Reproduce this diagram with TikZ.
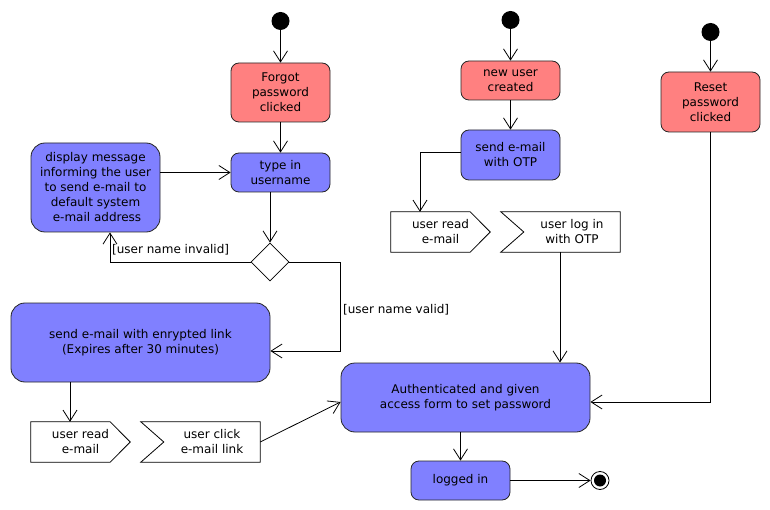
\documentclass[tikz,border=0pt]{standalone}
\usepackage{fontspec}
\setmainfont{DejaVu Sans}
\usetikzlibrary{arrows.meta,shapes.geometric}
\definecolor{triggerred}{HTML}{FF8080}
\definecolor{actionblue}{HTML}{8080FF}
\begin{document}
\begin{tikzpicture}[x=1pt, y=-1pt,
		font=\fontsize{12}{15}\selectfont,
		every node/.style={inner sep=0pt, align=center},
		act/.style={draw=black!85, line width=0.8pt, rounded corners=8pt},
		trigger/.style={act, fill=triggerred, minimum width=99pt},
		action/.style={act, fill=actionblue},
		start/.style={circle, fill=black, minimum size=18pt},
		decision/.style={diamond, draw, line width=0.8pt, minimum width=38pt, minimum height=38pt},
		evtbox/.style={rectangle, minimum height=40pt},
		evtline/.style={line width=0.8pt, line join=miter},
		flow/.style={-{Straight Barb[length=11pt, width=14pt]}, line width=0.8pt}]
		\useasboundingbox (0,0) rectangle (770,510);
		\node[start] (s1) at (280.5,21) {};
		\node[start] (s2) at (510.5,20) {};
		\node[start] (s3) at (710.5,32) {};
		\node[trigger, minimum height=59pt] (forgot) at (280.5,92.5) {Forgot\\password\\clicked};
		\node[action, minimum width=99pt, minimum height=39pt] (typein) at (280.5,172.5) {type in\\username};
		\node[action, rounded corners=14pt, minimum width=129pt, minimum height=89pt] (display) at (95.5,187.5) {display message\\informing the user\\to send e-mail to\\default system\\\hspace{3pt}e-mail address};
		\node[decision] (decide) at (270,262) {};
		\node[action, rounded corners=14pt, minimum width=259pt, minimum height=79pt] (sendlink) at (140.5,342.5) {send e-mail with enrypted link\\(Expires after 30 minutes)};
		\node[evtbox, minimum width=99pt] (readmail) at (80.5,442) {user read\\e-mail};
		\node[evtbox, minimum width=96pt] (clicklink) at (212,442) {user click\\e-mail link};
		\node[trigger, minimum height=39pt] (newuser) at (510.5,80.5) {new user\\created};
		\node[action, minimum width=99pt, minimum height=50pt] (sendotp) at (510.5,155) {send e-mail\\with OTP};
		\node[evtbox, minimum width=99pt] (readotp) at (440.5,232) {user read\\e-mail};
		\node[evtbox, minimum width=96pt] (loginotp) at (572,232) {user log in\\with OTP};
		\node[trigger, minimum height=60pt] (reset) at (710.5,102) {Reset\\password\\clicked};
		\node[action, rounded corners=14pt, minimum width=249pt, minimum height=69pt] (auth) at (465.5,397.5) {Authenticated and given\\access form to set password};
		\node[action, minimum width=99pt, minimum height=39pt] (login) at (460.5,480.5) {logged in};
		\node[circle, draw, line width=0.8pt, minimum size=18pt] (end) at (600,480.5) {};
		\fill (end.center) circle (6pt);
		\draw[evtline] (readmail.north west) -- ([xshift=-20pt]readmail.north east) -- (readmail.east) -- ([xshift=-20pt]readmail.south east) -- (readmail.south west) -- cycle;
		\draw[evtline] (readotp.north west) -- ([xshift=-20pt]readotp.north east) -- (readotp.east) -- ([xshift=-20pt]readotp.south east) -- (readotp.south west) -- cycle;
		\draw[evtline] ([xshift=-23pt]clicklink.north west) -- (clicklink.north east) -- (clicklink.south east) -- ([xshift=-23pt]clicklink.south west) -- (clicklink.west) -- cycle;
		\draw[evtline] ([xshift=-23pt]loginotp.north west) -- (loginotp.north east) -- (loginotp.south east) -- ([xshift=-23pt]loginotp.south west) -- (loginotp.west) -- cycle;
		\coordinate (validturn) at (340,262);
		\coordinate (otpout) at ([xshift=-12pt]loginotp.south);
		\node[anchor=west] (invalidlbl) at (112,250) {[user name invalid]};
		\node[anchor=west] (validlbl) at (343,310) {[user name valid]};
		\draw[flow] (s1) -- (forgot);
		\draw[flow] (forgot) -- (typein);
		\draw[flow] (display.east |- typein) -- (typein.west);
		\draw[flow] (typein.south -| decide) -- (decide.north);
		\draw[flow] (decide.west) -| ([xshift=14.5pt]display.south);
		\draw[flow] (decide.east) -- (validturn) |- ([yshift=-8.5pt]sendlink.east);
		\draw[flow] ([xshift=-70.5pt]sendlink.south) -- ([xshift=-10.5pt]readmail.north);
		\draw[flow] (clicklink.east) -- ([yshift=-4.5pt]auth.west);
		\draw[flow] (s2) -- (newuser);
		\draw[flow] (newuser) -- (sendotp);
		\draw[flow] ([yshift=3pt]sendotp.west) -| ([xshift=-20.5pt]readotp.north);
		\draw[flow] (otpout) -- (auth.north -| otpout);
		\draw[flow] (s3) -- (reset);
		\draw[flow] (reset.south) |- ([yshift=-4.5pt]auth.east);
		\draw[flow] (auth.south -| login.north) -- (login.north);
		\draw[flow] (login.east) -- (end.west);
\end{tikzpicture}
\end{document}
